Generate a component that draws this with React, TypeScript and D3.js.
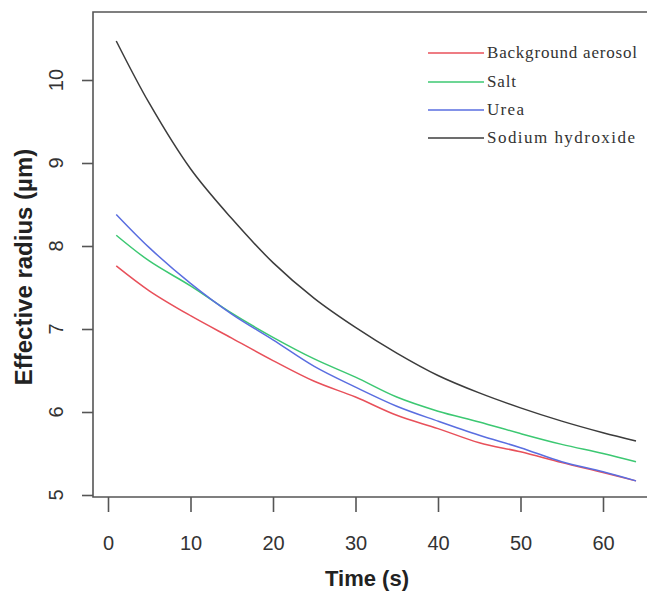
import React, { useEffect, useRef } from "react"
import * as d3 from "d3"

// time (s) and effective radius (µm)
const times = [1, 5, 10, 15, 20, 25, 30, 35, 40, 45, 50, 55, 60, 64]
const background = [7.76, 7.46, 7.16, 6.89, 6.62, 6.37, 6.18, 5.96, 5.8, 5.63, 5.52, 5.39, 5.27, 5.17]
const salt = [8.13, 7.82, 7.52, 7.19, 6.9, 6.64, 6.42, 6.18, 6.01, 5.88, 5.74, 5.61, 5.5, 5.4]
const urea = [8.38, 7.98, 7.55, 7.18, 6.87, 6.55, 6.3, 6.07, 5.89, 5.72, 5.57, 5.4, 5.28, 5.17]
const sodium = [10.47, 9.72, 8.93, 8.33, 7.8, 7.37, 7.02, 6.71, 6.44, 6.23, 6.05, 5.89, 5.75, 5.65]

const seriesNames = ["Background aerosol", "Salt", "Urea", "Sodium hydroxide"]
const seriesColors = ["#e8505a", "#3cc872", "#5a6ee0", "#3c3c3c"]
const xTicks = [0, 10, 20, 30, 40, 50, 60]
const yTicks = [5, 6, 7, 8, 9, 10]

export default function App() {
  const ref = useRef<SVGSVGElement>(null)

  useEffect(() => {
    const svg = d3.select(ref.current)
    svg.selectAll("*").remove()

    const x = d3.scaleLinear().domain([0, 60]).range([108, 603])
    const y = d3.scaleLinear().domain([5, 10]).range([495, 80])
    const axisColor = "#555"

    // box (right side runs off the picture)
    svg.append("path")
      .attr("d", "M660,12 L93,12 L93,497 L660,497")
      .attr("fill", "none")
      .attr("stroke", axisColor)
      .attr("stroke-width", 1.6)

    // x axis
    const xg = svg.append("g").attr("transform", "translate(0,497)")
    xg.call(d3.axisBottom(x).tickValues(xTicks).tickSize(15).tickPadding(24))
    xg.select(".domain").remove()
    xg.selectAll("line").attr("stroke", axisColor).attr("stroke-width", 1.6)
    xg.selectAll("text")
      .attr("font-family", "Liberation Sans, Arial, sans-serif")
      .attr("font-size", 20)
      .attr("fill", "#333")

    // y axis, labels parallel to axis
    const yg = svg.append("g").attr("transform", "translate(93,0)")
    yg.call(d3.axisLeft(y).tickValues(yTicks).tickSize(11).tickFormat(() => ""))
    yg.select(".domain").remove()
    yg.selectAll("line").attr("stroke", axisColor).attr("stroke-width", 1.6)
    svg.append("g").selectAll("text")
      .data(yTicks)
      .enter()
      .append("text")
      .attr("transform", d => `translate(63,${y(d)}) rotate(-90)`)
      .attr("text-anchor", "middle")
      .attr("font-family", "Liberation Sans, Arial, sans-serif")
      .attr("font-size", 20)
      .attr("fill", "#333")
      .text(d => d)

    // titles
    svg.append("text")
      .attr("x", 367)
      .attr("y", 586)
      .attr("text-anchor", "middle")
      .attr("font-family", "Liberation Sans, Arial, sans-serif")
      .attr("font-weight", "bold")
      .attr("font-size", 22)
      .attr("fill", "#222")
      .text("Time (s)")
    svg.append("text")
      .attr("transform", "translate(32,267) rotate(-90)")
      .attr("text-anchor", "middle")
      .attr("font-family", "Liberation Sans, Arial, sans-serif")
      .attr("font-weight", "bold")
      .attr("font-size", 24)
      .attr("fill", "#222")
      .text("Effective radius (µm)")

    // curves
    const allSeries = [background, salt, urea, sodium]
    const line = d3.line<number>()
      .x((d, i) => x(times[i]))
      .y(d => y(d))
      .curve(d3.curveCatmullRom.alpha(0.5))
    allSeries.forEach((s, k) => {
      svg.append("path")
        .datum(s)
        .attr("d", line)
        .attr("fill", "none")
        .attr("stroke", seriesColors[k])
        .attr("stroke-width", 1.5)
    })

    // legend
    const legendY = [53, 82, 110, 138]
    const legendW = [150, 29, 37, 148]
    const lg = svg.append("g")
    seriesNames.forEach((name, k) => {
      lg.append("line")
        .attr("x1", 428).attr("x2", 484)
        .attr("y1", legendY[k]).attr("y2", legendY[k])
        .attr("stroke", seriesColors[k])
        .attr("stroke-width", 1.5)
      lg.append("text")
        .attr("x", 487)
        .attr("y", legendY[k] + 5)
        .attr("font-family", "Liberation Serif, Times New Roman, serif")
        .attr("font-size", 17)
        .attr("fill", "#333")
        .attr("textLength", legendW[k])
        .attr("lengthAdjust", "spacing")
        .text(name)
    })
  }, [])

  return (
    <svg
      ref={ref}
      width={647}
      height={593}
      style={{ position: "absolute", left: 0, top: 0, background: "#fff" }}
    />
  )
}
